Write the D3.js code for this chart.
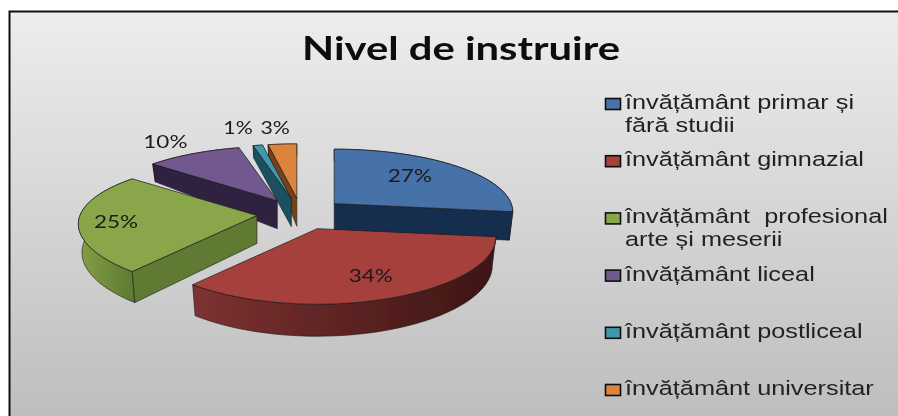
<!DOCTYPE html>
<html><head><meta charset="utf-8">
<script src="https://cdn.jsdelivr.net/npm/d3@7/dist/d3.min.js"></script>
<style>html,body{margin:0;padding:0;background:#fff}svg{display:block}</style>
</head><body><svg id="c" width="898" height="416"></svg>
<script>
const title = "Nivel de instruire";
const categories = ["primar","gimnazial","profesional","liceal","postliceal","universitar"];
const values = [27,34,25,10,1,3];
const legendLines = [
  ["învățământ primar și","fără studii"],
  ["învățământ gimnazial"],
  ["învățământ  profesional","arte și meserii"],
  ["învățământ liceal"],
  ["învățământ postliceal"],
  ["învățământ universitar"]
];
const topColors  = ["#4672a9","#a53f3e","#8aa64b","#71588f","#4198af","#db843d"];
const cutColors  = ["#172f4e","#4a1c1b","#5f7a33","#2f2340","#1c5060","#7a4018"];
const wallLight  = ["#2a4a75","#7d3231","#84a044","#3c2d52","#1c5060","#7a4018"];
const wallDark   = ["#172f4e","#3d1514","#5f7a33","#2f2340","#1c5060","#7a4018"];
const labelReachX = [0.57,0.82,0.80,1.18,1.38,1.30];
const labelReachY = [0.67,0.80,1.00,1.11,1.15,1.13];

const svg = d3.select("#c");
const CX=301, CY=214, RX=177, RY=63, PERSP=0.136, PERSP_FRONT=0.2, EXPLODE=0.25;
const defs = svg.append("defs");
const bg = defs.append("linearGradient").attr("id","bg").attr("x1",0).attr("y1",0).attr("x2",0).attr("y2",1);
bg.append("stop").attr("offset",0).attr("stop-color","#ededed");
bg.append("stop").attr("offset",1).attr("stop-color","#bcbcbc");
defs.append("filter").attr("id","soft")
  .attr("filterUnits","userSpaceOnUse").attr("primitiveUnits","userSpaceOnUse")
  .attr("x",0).attr("y",0).attr("width",898).attr("height",416)
  .append("feGaussianBlur").attr("stdDeviation",0.45);
const root = svg.append("g").attr("filter","url(#soft)");
root.append("rect").attr("x",9.5).attr("y",11.5).attr("width",900).attr("height",420)
  .attr("fill","url(#bg)").attr("stroke","#111").attr("stroke-width",2);

root.append("text").attr("x",461).attr("y",60).attr("text-anchor","middle")
  .attr("font-family","Lato").attr("font-weight",700).attr("font-size",32)
  .attr("textLength",318).attr("lengthAdjust","spacingAndGlyphs").attr("fill","#0d0d0d").text(title);

const arcs = d3.pie().sort(null).value(d=>d).startAngle(0).endAngle(2*Math.PI)(values);

function unit(t){return {x:Math.sin(t),y:-Math.cos(t)};}
function apexOf(a){const m=(a.startAngle+a.endAngle)/2,u=unit(m);
  return {x:CX+EXPLODE*RX*u.x,y:CY+EXPLODE*RY*u.y};}
function rimTop(ap,t){const u=unit(t),f=1+PERSP*u.y,fy=1+(u.y>0?PERSP_FRONT:PERSP)*u.y;
  return [ap.x+RX*u.x*f, ap.y+RY*u.y*fy];}
function depth(v){return 28+(v<0?16*v:4*v);}
function rimBot(ap,t){const u=unit(t),p=rimTop(ap,t);
  return [ap.x+(p[0]-ap.x)*0.98, p[1]+depth(u.y)];}
const line = d3.line();
function arcSamples(a){return d3.range(0,41).map(i=>a.startAngle+(a.endAngle-a.startAngle)*i/40);}
// a cut face shows only when the wedge lies above its radial edge on screen
function faces(ap,t,mid){
  const P=rimTop(ap,t),M=rimTop(ap,mid),dx=P[0]-ap.x;
  if(Math.abs(dx)<2) return false;
  return M[1] < ap.y+(P[1]-ap.y)/dx*(M[0]-ap.x);
}

const order=[0,5,4,3,2,1];
const stroke="#1a1a1a";
order.forEach(i=>{
  const a=arcs[i], ap=apexOf(a), ts=arcSamples(a), mid=(a.startAngle+a.endAngle)/2;
  const g=root.append("g");
  const id="w"+i;
  const tp=ts.map(t=>rimTop(ap,t));
  const xs=d3.extent(tp,d=>d[0]);
  const gr=defs.append("linearGradient").attr("id",id).attr("gradientUnits","userSpaceOnUse")
    .attr("x1",xs[0]).attr("x2",xs[1]).attr("y1",0).attr("y2",0);
  gr.append("stop").attr("offset",0).attr("stop-color",wallLight[i]);
  gr.append("stop").attr("offset",1).attr("stop-color",wallDark[i]);
  const apB=[ap.x,ap.y+depth(0)];
  const wall=tp.concat(ts.slice().reverse().map(t=>rimBot(ap,t)));
  g.append("path").attr("d",line(wall)+"Z").attr("fill",`url(#${id})`).attr("stroke",stroke).attr("stroke-width",.6);
  [a.startAngle,a.endAngle].filter(t=>faces(ap,t,mid)).forEach(t=>{
    g.append("path").attr("d",line([[ap.x,ap.y],rimTop(ap,t),rimBot(ap,t),apB])+"Z")
      .attr("fill",cutColors[i]).attr("stroke",stroke).attr("stroke-width",.6);
  });
  g.append("path").attr("d",line([[ap.x,ap.y]].concat(tp))+"Z").attr("fill",topColors[i]).attr("stroke",stroke).attr("stroke-width",.7);
});

arcs.forEach((a,i)=>{
  const ap=apexOf(a), u=unit((a.startAngle+a.endAngle)/2);
  const s=values[i]+"%";
  root.append("text").attr("x",ap.x+RX*labelReachX[i]*u.x).attr("y",ap.y+RY*labelReachY[i]*u.y+6.5)
    .attr("text-anchor","middle").attr("font-family","Lato").attr("font-size",18)
    .attr("textLength",s.length*14.7).attr("lengthAdjust","spacingAndGlyphs")
    .attr("fill","#1a1a1a").text(s);
});

const rowY=d3.scalePoint().domain(categories).range([104,390]);
const leg=root.append("g").selectAll("g").data(categories).join("g").attr("transform",d=>`translate(0,${rowY(d)})`);
leg.append("rect").attr("x",605.5).attr("y",-5.5).attr("width",15).attr("height",11)
  .attr("fill",(d,i)=>topColors[i]).attr("stroke","#111").attr("stroke-width",1.6);
const sx=1.297;
leg.each(function(d,i){
  legendLines[i].forEach((t,j)=>{
    d3.select(this).append("text").attr("transform",`translate(625,${5+j*23}) scale(${sx},1)`)
      .attr("font-family","Liberation Sans").attr("font-size",19.5).attr("fill","#222")
      .style("white-space","pre").text(t);
  });
});
</script></body></html>
